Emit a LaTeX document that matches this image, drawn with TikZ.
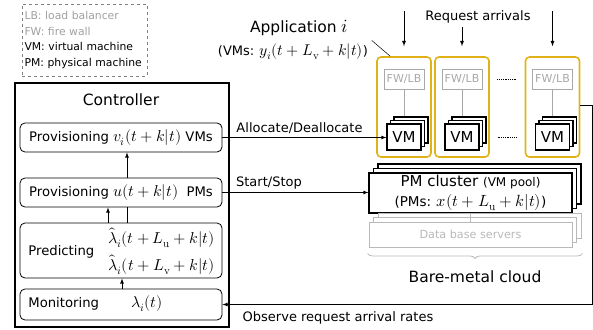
\documentclass[tikz,border=0pt]{standalone}
\usepackage{amsmath}
\usepackage{unicode-math}
\setmainfont{DejaVu Sans}
\setmathfont{Latin Modern Math}[Scale=1.2]
\usetikzlibrary{shadows}
\usetikzlibrary{decorations.pathreplacing}

\definecolor{appgold}{RGB}{224,178,24}
\definecolor{fwgray}{RGB}{168,168,168}
\definecolor{dbgray}{RGB}{185,185,185}
\definecolor{legendgray}{RGB}{160,160,160}

\newcommand{\fsz}[1]{\fontsize{#1}{#1}\selectfont}

\tikzset{
  legendbox/.style={draw=gray, dashed, line width=0.6pt, align=left, text width=120pt, inner xsep=2.5pt,
    minimum height=72pt, font=\fontsize{10.8}{15.7}\selectfont},
  ctrlbox/.style={draw, rounded corners=5pt, minimum width=202pt, line width=0.8pt, font=\fsz{13.2}},
  ctrltext/.style={inner sep=0pt, font=\fsz{13.2}},
  labeltext/.style={font=\fsz{13}},
  bigtext/.style={font=\fsz{15.5}},
  appbox/.style={draw=appgold, line width=1.6pt, rounded corners=4pt, minimum width=54pt, minimum height=100pt},
  fwlbbox/.style={draw=fwgray, text=fwgray, line width=0.9pt, minimum width=40pt, minimum height=20pt,
    inner sep=0pt, font=\fsz{11}},
  vmbox/.style={draw, fill=white, line width=1.1pt, minimum width=34pt, minimum height=26pt, inner sep=0pt,
    font=\fsz{15},
    copy shadow={shadow xshift=7pt, shadow yshift=7pt, draw=black, fill=white},
    copy shadow={shadow xshift=3.5pt, shadow yshift=3.5pt, draw=black, fill=white}},
  pmbox/.style={draw, fill=white, line width=1.1pt, minimum width=203pt, minimum height=40pt, inner sep=0pt,
    align=center, font=\fontsize{15}{20}\selectfont,
    copy shadow={shadow xshift=9pt, shadow yshift=9pt, draw=black, fill=white},
    copy shadow={shadow xshift=4.5pt, shadow yshift=4.5pt, draw=black, fill=white}},
  dbbox/.style={draw=dbgray, text=dbgray, fill=white, line width=0.9pt, minimum width=203pt, minimum height=25pt,
    inner sep=0pt, font=\fsz{11.2},
    copy shadow={shadow xshift=9pt, shadow yshift=9pt, draw=dbgray, fill=white},
    copy shadow={shadow xshift=4.5pt, shadow yshift=4.5pt, draw=dbgray, fill=white}},
  >=latex
}

\begin{document}
\begin{tikzpicture}[x=1pt,y=-1pt,line width=0.8pt]
\useasboundingbox (0,0) rectangle (593,329);

% legend
\node[legendbox] (legend) at (84.5,40) {\textcolor{legendgray}{LB: load balancer}\\
  \textcolor{legendgray}{FW: fire wall}\\ VM: virtual machine\\ PM: physical machine};

% controller
\node[draw, line width=1.1pt, minimum width=214pt, minimum height=244pt] (ctrl) at (122,205) {};
\node[bigtext] (ctrltitle) at (121,100) {Controller};

\node[ctrlbox, minimum height=29pt] (vms) at (121,137.5) {Provisioning $v_i(t+k|t)$ VMs};
\node[ctrlbox, minimum height=29pt] (pms) at (121,192.5) {Provisioning $u(t+k|t)$\ \ PMs};
\node[ctrlbox, minimum height=55pt] (pred) at (121,250.5) {};
\node[ctrlbox, minimum height=31pt] (mon) at (121,304.5) {};

\node[ctrltext, anchor=west] (predtxt) at (28,252) {Predicting};
\node[ctrltext, anchor=east] (predu) at (215,238) {$\hat\lambda_i(t+L_{\symup u}+k|t)$};
\node[ctrltext, anchor=east] (predv) at (215,265) {$\hat\lambda_i(t+L_{\symup v}+k|t)$};
\node[ctrltext, anchor=west] (montxt) at (28,304) {Monitoring};
\node[ctrltext] (monlam) at (147,304) {$\lambda_i(t)$};

\draw[->] ([xshift=6pt]pms.north) -- ([xshift=6pt]vms.south);
\draw[->] ([xshift=-13pt]pred.north) -- ([xshift=-13pt]pms.south);
\draw ([xshift=6pt]pred.north) -- ([xshift=6pt]pms.south);
\draw[->] ([xshift=1pt]mon.north) -- ([xshift=1pt]pred.south);

% applications
\node[bigtext] (apptitle) at (299,28) {Application $i$};
\node[labeltext] (appvms) at (293,52) {(VMs: $y_i(t+L_{\symup v}+k|t)$)};

\node[appbox] (app1) at (404,107) {};
\node[appbox] (app2) at (462,107) {};
\node[appbox] (app3) at (552.5,107) {};

\node[fwlbbox] (fw1) at (404,79) {FW/LB};
\node[fwlbbox] (fw2) at (462,79) {FW/LB};
\node[fwlbbox] (fw3) at (552.5,79) {FW/LB};

\draw[fwgray] (fw1.south) -- ([yshift=7pt]fw1.south |- 0,124);
\draw[fwgray] (fw2.south) -- ([yshift=7pt]fw2.south |- 0,124);
\draw[fwgray] (fw3.south) -- ([yshift=7pt]fw3.south |- 0,124);

\node[vmbox] (vm1) at (404,137) {VM};
\node[vmbox] (vm2) at (462,137) {VM};
\node[vmbox] (vm3) at (552.5,137) {VM};

\draw[densely dotted] ([xshift=15pt]fw2.east) -- ([xshift=-15pt]fw3.west);
\draw[densely dotted] ([xshift=18pt]vm2.east) -- ([xshift=-18pt]vm3.west);

\node[labeltext] (req) at (478,17) {Request arrivals};
\draw[->] ([yshift=45pt]app1.north) -- ([yshift=10pt]app1.north);
\draw[->] ([yshift=29pt]app2.north) -- ([yshift=10pt]app2.north);
\draw[->] ([yshift=45pt]app3.north) -- ([yshift=10pt]app3.north);

\draw[line width=0.5pt] (appvms.north east) -- ([xshift=14pt]app1.north west);

% bare-metal cloud
\node[pmbox] (pmc) at (470.5,193) {PM cluster {\fsz{12}(VM pool)}\\ {\fsz{13.5}(PMs: $x(t+L_{\symup u}+k|t)$)}};
\node[dbbox] (db) at (470.5,234.5) {Data base servers};
\draw[dbgray] (pmc.south) -- (db.north);

\draw[dbgray, decorate, decoration={brace, mirror, amplitude=5pt}]
  ([xshift=-1pt,yshift=-6pt]db.south west) -- ([xshift=10pt,yshift=-6pt]db.south east);
\node[bigtext] (bmc) at (475,277) {Bare-metal cloud};

% connectors
\draw[->] (vms.east) -- (vms.east -| vm1.west)
  node[labeltext, pos=0.47, above] {Allocate/Deallocate};
\draw[->] (pms.east) -- (pms.east -| pmc.west)
  node[labeltext, pos=0, above right, xshift=10pt] {Start/Stop};
\draw[->] ([yshift=2pt]app3.east) -- ++(12,0) |- (mon.east);
\node[labeltext, anchor=west] (obs) at (239,318) {Observe request arrival rates};

\end{tikzpicture}
\end{document}
